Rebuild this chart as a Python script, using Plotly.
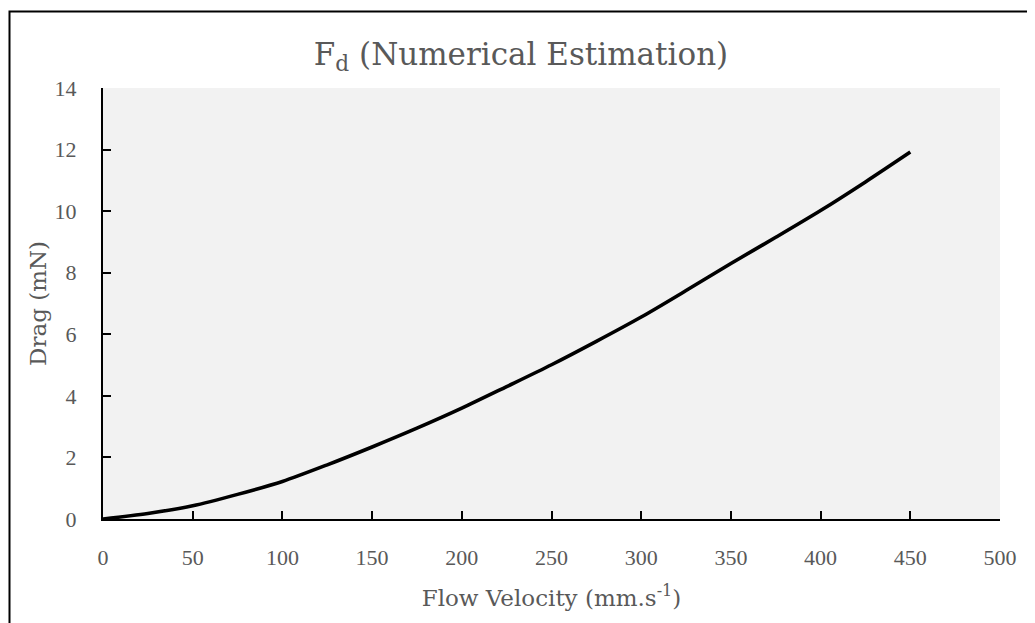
import plotly.graph_objects as go

velocity = [0, 25, 50, 75, 100, 125, 150, 175, 200, 225, 250, 275, 300, 325, 350, 375, 400, 425, 450]
drag = [0, 0.18, 0.43, 0.8, 1.22, 1.76, 2.34, 2.95, 3.6, 4.3, 5.01, 5.77, 6.56, 7.42, 8.3, 9.15, 10.02, 10.95, 11.92]

x_ticks = [0, 50, 100, 150, 200, 250, 300, 350, 400, 450, 500]
y_ticks = [0, 2, 4, 6, 8, 10, 12, 14]

TICK_FONT = "Liberation Serif"
TITLE_FONT = "DejaVu Serif"
GREY = "#595959"

fig = go.Figure()
fig.add_trace(go.Scatter(x=velocity, y=drag, mode="lines",
                         line=dict(color="black", width=3.6, shape="spline", smoothing=0.8),
                         showlegend=False))

# page has an 8px body margin, so shift everything up/left by 8px
OFF = 8
W, H = 1035, 623
L, T = 103 - OFF, 88 - OFF
pw, ph = 897, 431
R = W - L - pw
B = H - T - ph

fig.update_layout(
    width=W, height=H,
    margin=dict(l=L, r=R, t=T, b=B),
    paper_bgcolor="white",
    plot_bgcolor="#F2F2F2",
    font=dict(family=TICK_FONT, color=GREY),
    title=dict(text="F<sub>d</sub> (Numerical Estimation)", x=(521 - OFF) / W, xanchor="center",
               yref="container", y=1 - (54 - OFF) / H, yanchor="middle",
               font=dict(family=TITLE_FONT, size=31, color=GREY)),
    xaxis=dict(range=[0, 500], tickvals=x_ticks, ticktext=[str(v) for v in x_ticks],
               showgrid=False, zeroline=False, showline=True, linecolor="black", linewidth=2,
               ticks="inside", ticklen=8, tickwidth=2, tickcolor="black",
               ticklabelstandoff=18,
               tickfont=dict(family=TICK_FONT, size=22, color=GREY),
               title=dict(text="Flow Velocity (mm.s<sup>-1</sup>)", standoff=20,
                          font=dict(family=TITLE_FONT, size=23, color=GREY))),
    yaxis=dict(range=[0, 14], tickvals=y_ticks, ticktext=[str(v) for v in y_ticks],
               showgrid=False, zeroline=False, showline=True, linecolor="black", linewidth=2,
               ticks="inside", ticklen=8, tickwidth=2, tickcolor="black",
               ticklabelstandoff=20,
               tickfont=dict(family=TICK_FONT, size=22, color=GREY),
               title=dict(text="Drag (mN)", standoff=2,
                          font=dict(family=TITLE_FONT, size=23, color=GREY))),
)

# figure border (extends past right and bottom edges)
fig.add_shape(type="rect", xref="paper", yref="paper",
              x0=(9.5 - OFF - L) / pw, x1=(W + 20 - L) / pw,
              y0=-(H + 20 - (T + ph)) / ph, y1=1 + (T - (11.5 - OFF)) / ph,
              line=dict(color="black", width=2), fillcolor="rgba(0,0,0,0)", layer="above")

fig.write_html("out.html")
